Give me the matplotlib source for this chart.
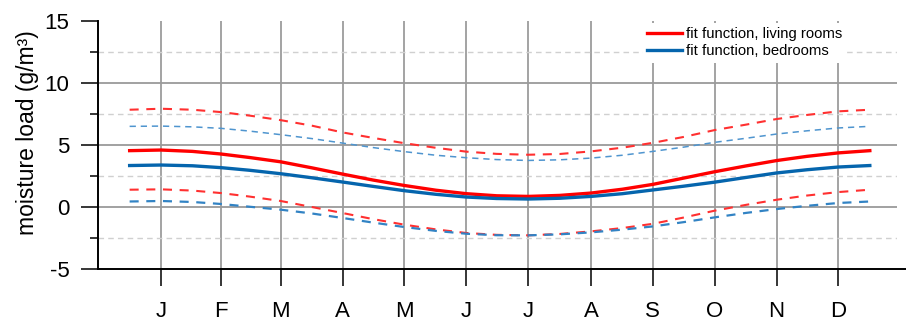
import matplotlib
matplotlib.use("Agg")
import matplotlib.pyplot as plt
from matplotlib.lines import Line2D

plt.rcParams['font.family'] = ['Liberation Sans', 'DejaVu Sans']
plt.rcParams['lines.scale_dashes'] = False

# day of year (0 = 1 January) at which the fit functions are tabulated
days = [0, 15.5, 31, 45, 59, 74.5, 90, 105, 120, 135.5, 151, 166, 181, 196.5,
        212, 227.5, 243, 258, 273, 288.5, 304, 319, 334, 349.5, 365]

# fit function, living rooms, with its upper / lower band
living = [4.52, 4.57, 4.46, 4.25, 3.97, 3.62, 3.13, 2.63, 2.15, 1.71, 1.33, 1.05,
          0.88, 0.83, 0.91, 1.10, 1.41, 1.80, 2.30, 2.82, 3.29, 3.72, 4.06, 4.34, 4.52]
living_hi = [7.82, 7.90, 7.82, 7.63, 7.35, 6.98, 6.53, 5.99, 5.55, 5.12, 4.75, 4.44,
             4.26, 4.19, 4.25, 4.46, 4.76, 5.15, 5.62, 6.18, 6.62, 7.07, 7.40, 7.69, 7.82]
living_lo = [1.37, 1.40, 1.30, 1.10, 0.82, 0.46, -0.03, -0.51, -1.00, -1.45, -1.83, -2.12,
             -2.27, -2.31, -2.20, -1.99, -1.72, -1.38, -0.88, -0.32, 0.15, 0.56, 0.90, 1.18, 1.37]

# fit function, bedrooms, with its upper / lower band
bed = [3.32, 3.36, 3.30, 3.15, 2.94, 2.66, 2.33, 1.99, 1.64, 1.29, 1.00, 0.78,
       0.66, 0.62, 0.68, 0.83, 1.05, 1.35, 1.65, 1.98, 2.36, 2.72, 2.98, 3.20, 3.32]
bed_hi = [6.48, 6.50, 6.44, 6.32, 6.10, 5.81, 5.49, 5.13, 4.77, 4.44, 4.15, 3.95,
          3.80, 3.73, 3.78, 3.92, 4.15, 4.46, 4.80, 5.19, 5.52, 5.86, 6.12, 6.35, 6.48]
bed_lo = [0.42, 0.46, 0.38, 0.22, 0.00, -0.24, -0.55, -0.91, -1.28, -1.64, -1.95, -2.18,
          -2.30, -2.31, -2.23, -2.07, -1.85, -1.59, -1.25, -0.86, -0.50, -0.19, 0.07, 0.30, 0.42]

month_pos = [15.5, 45, 74.5, 105, 135.5, 166, 196.5, 227.5, 258, 288.5, 319, 349.5]
month_labels = ['J', 'F', 'M', 'A', 'M', 'J', 'J', 'A', 'S', 'O', 'N', 'D']

y_major = [-5, 0, 5, 10, 15]
y_minor = [-2.5, 2.5, 7.5, 12.5]
y_grid = [0, 5, 10]

W, H = 906, 321
fig = plt.figure(figsize=(W / 100, H / 100), dpi=100)
ax = fig.add_axes([98 / W, 52.3 / H, (897 - 98) / W, 248 / H])

x0, x1 = -15.6, 378.4
ax.set_xlim(x0, x1)
ax.set_ylim(-5, 15)

# grid
for m in month_pos:
    ax.axvline(m, color='#a3a3a3', lw=1.4, zorder=1)
for g in y_grid:
    ax.axhline(g, color='#9a9a9a', lw=1.3, zorder=1)
for g in y_minor:
    ax.axhline(g, color='#d0d0d0', lw=1.0, ls=(0, (4, 3)), zorder=1)

# bands
ax.plot(days, living_hi, color='#ff3030', lw=1.5, ls=(0, (6.5, 5.5)), zorder=3)
ax.plot(days, living_lo, color='#ff3030', lw=1.5, ls=(0, (6.5, 5.5)), zorder=3)
ax.plot(days, bed_hi, color='#4f95cf', lw=1.1, ls=(0, (4.5, 3.5)), zorder=3)
ax.plot(days, bed_lo, color='#3283c4', lw=1.6, ls=(0, (6.5, 5.5)), zorder=3)

# fit functions
ax.plot(days, living, color='#ff0000', lw=2.4, zorder=4)
ax.plot(days, bed, color='#0565ad', lw=2.4, zorder=4)

# axes styling
for s in ('top', 'right'):
    ax.spines[s].set_visible(False)
ax.spines['left'].set_linewidth(1.4)
ax.spines['bottom'].set_linewidth(1.4)
ax.spines['bottom'].set_bounds(x0, x1 + 5)

ax.set_xticks(month_pos)
ax.set_xticklabels(month_labels)
ax.set_yticks(y_major)
ax.set_yticklabels([str(v) for v in y_major])
ax.set_yticks(y_minor, minor=True)
ax.tick_params(axis='x', direction='out', length=12.5, width=1.1, pad=10.5, labelsize=16)
ax.tick_params(axis='y', which='major', direction='out', length=12.5, width=1.1, pad=8, labelsize=16)
ax.tick_params(axis='y', which='minor', direction='out', length=6, width=1.1)

fig.text(28 / W, 1 - 133 / H, 'moisture load (g/m³)', rotation=90,
         ha='center', va='center', fontsize=16.5)

handles = [Line2D([], [], color='#ff0000', lw=2.4),
           Line2D([], [], color='#0565ad', lw=2.4)]
leg = ax.legend(handles, ['fit function, living rooms', 'fit function, bedrooms'],
                loc='upper left', bbox_to_anchor=(643 / W, 1 - 22.5 / H),
                bbox_transform=fig.transFigure, fontsize=10.7, frameon=True,
                facecolor='white', edgecolor='none', framealpha=1, fancybox=False,
                handlelength=2.35, handletextpad=0.27, labelspacing=0.23,
                borderpad=0.3, borderaxespad=0)
leg.set_zorder(5)

fig.savefig('out.png', dpi=100)
